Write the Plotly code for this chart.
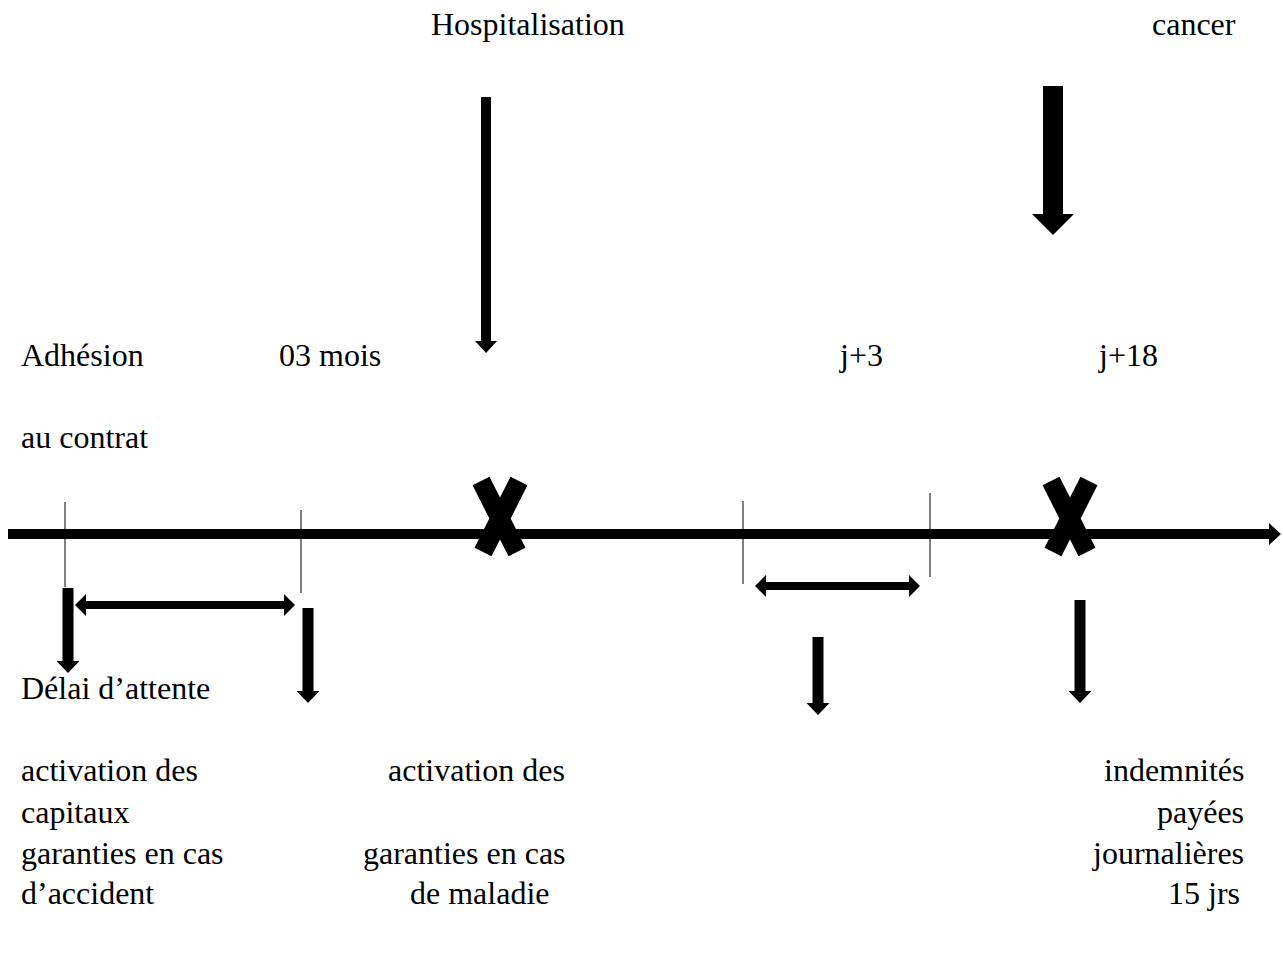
import plotly.graph_objects as go

# ---- texts of the diagram ----
labels = ["Hospitalisation", "cancer",
          "Adhésion", "03 mois", "j+3", "j+18",
          "au contrat",
          "Délai d’attente",
          "activation des", "capitaux", "garanties en cas", "d’accident",
          "activation des", "garanties en cas", "de maladie",
          "indemnités", "payées", "journalières", "15 jrs"]

# ---- layout of the diagram (page pixel space) ----
W, H = 1283, 957
label_pos = [(430, 24, "left"), (1151, 24, "left"),
             (20, 355, "left"), (278, 355, "left"), (838, 355, "left"), (1097, 355, "left"),
             (20, 437, "left"),
             (20, 688, "left"),
             (20, 770, "left"), (20, 812, "left"), (20, 853, "left"), (20, 893, "left"),
             (387, 770, "left"), (362, 853, "left"), (409, 893, "left"),
             (1245, 770, "right"), (1245, 812, "right"), (1245, 853, "right"), (1241, 893, "right")]

timeline = dict(x0=8, x1=1281, y=534, thick=10, head=11)
ticks = [(65, 502, 587), (301, 510, 593), (743, 501, 584), (930, 493, 577)]
double_arrows = [(75, 295, 605), (755, 920, 586)]
down_arrows = [  # x, y_start, y_tip, shaft, head_w, head_len
    (486, 97, 353, 10, 22, 12),
    (1053, 86, 235, 20, 42, 21),
    (68, 588, 673, 11, 23, 12),
    (308, 608, 703, 11, 23, 12),
    (818, 637, 715, 11, 23, 12),
    (1080, 600, 703, 11, 23, 12),
]
crosses = [(500, 516), (1070, 516)]

BLACK = "black"


def poly(pts):
    return "M " + " L ".join(f"{x},{y}" for x, y in pts) + " Z"


shapes = []

# main timeline with arrow head
t = timeline
hw = t["thick"] / 2
hx = t["x1"] - 12
shapes.append(dict(type="path", path=poly([
    (t["x0"], t["y"] - hw), (hx, t["y"] - hw), (hx, t["y"] - t["head"]),
    (t["x1"], t["y"]), (hx, t["y"] + t["head"]), (hx, t["y"] + hw),
    (t["x0"], t["y"] + hw)]), fillcolor=BLACK, line=dict(width=0)))

# thin ticks
for x, y0, y1 in ticks:
    shapes.append(dict(type="line", x0=x, x1=x, y0=y0, y1=y1,
                       line=dict(color=BLACK, width=1)))

# double-headed arrows
for x0, x1, y in double_arrows:
    s, hh, hl = 4, 11, 11
    shapes.append(dict(type="path", path=poly([
        (x0, y), (x0 + hl, y - hh), (x0 + hl, y - s), (x1 - hl, y - s),
        (x1 - hl, y - hh), (x1, y), (x1 - hl, y + hh), (x1 - hl, y + s),
        (x0 + hl, y + s), (x0 + hl, y + hh)]), fillcolor=BLACK, line=dict(width=0)))

# down arrows
for x, y0, y1, sw, hwid, hl in down_arrows:
    s, h = sw / 2, hwid / 2
    shapes.append(dict(type="path", path=poly([
        (x - s, y0), (x + s, y0), (x + s, y1 - hl), (x + h, y1 - hl),
        (x, y1), (x - h, y1 - hl), (x - s, y1 - hl)]), fillcolor=BLACK, line=dict(width=0)))

# crosses on the timeline
for cx, cy in crosses:
    for sgn in (-1, 1):
        shapes.append(dict(type="line", x0=cx - 19 * sgn, y0=cy - 35, x1=cx + 17 * sgn, y1=cy + 36,
                           line=dict(color=BLACK, width=19)))

fig = go.Figure()
fig.add_trace(go.Scatter(x=[0, W], y=[0, H], mode="markers",
                         marker=dict(opacity=0), hoverinfo="skip", showlegend=False))

annotations = []
for txt, (x, y, anc) in zip(labels, label_pos):
    annotations.append(dict(x=x, y=y, text=txt, xref="x", yref="y", showarrow=False,
                            xanchor=anc, yanchor="middle", borderpad=0,
                            font=dict(family="Liberation Serif", size=32, color=BLACK)))

fig.update_layout(
    width=W, height=H, margin=dict(l=0, r=0, t=0, b=0),
    paper_bgcolor="white", plot_bgcolor="white",
    xaxis=dict(range=[0, W], visible=False, fixedrange=True),
    yaxis=dict(range=[H, 0], visible=False, fixedrange=True),
    shapes=shapes, annotations=annotations,
)

fig.write_html(
    "out.html",
    config={"displayModeBar": False},
    post_script="document.body.style.margin='0';document.body.style.overflow='hidden';",
)
